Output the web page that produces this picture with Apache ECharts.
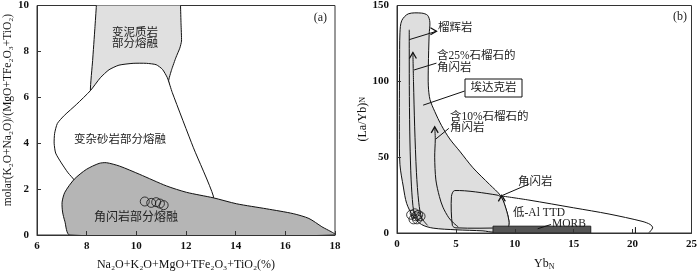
<!DOCTYPE html>
<html><head><meta charset="utf-8">
<script src="https://cdn.jsdelivr.net/npm/echarts@6/dist/echarts.min.js"></script>
<style>html,body{margin:0;padding:0;background:#fff}#c{width:700px;height:276px}</style>
</head><body><div id="c"></div><script>
// ---------- Panel (a) data ----------
const aXRange = [6, 18];
const aYRange = [0, 10];
const metapelite = [[8.4,10.6],[8.39,10],[8.33,9],[8.24,7.6],[8.15,6.3],[8.3,5.5],[11.5,5.5],[11.3,6.7],[11.42,7.2],[11.6,7.75],[11.75,8.14],[11.82,8.45],[11.8,9.2],[11.78,10],[11.78,10.6]];
const greywacke = [[8.15,6.29],[8.55,6.85],[8.9,7.2],[9.3,7.4],[9.87,7.48],[10.41,7.48],[10.8,7.42],[11.05,7.22],[11.25,6.85],[11.45,6.2],[12.3,3.8],[13.1,1.7],[13.0,1.2],[7.8,1.5],[7.52,2.36],[7.25,2.71],[6.98,3.14],[6.75,3.57],[6.69,4.0],[6.71,4.43],[6.82,4.86],[7.1,5.21],[7.6,5.7]];
const amphibolite = [[7.32,0],[7.12,0.6],[7.03,1.0],[7.01,1.43],[7.12,1.86],[7.5,2.43],[7.99,2.86],[8.5,3.12],[8.8,3.15],[9.33,3.0],[10.14,2.64],[11.21,2.14],[12.02,1.86],[13.1,1.62],[14.04,1.36],[15.25,1.14],[16.32,0.93],[16.95,0.72],[17.47,0.36],[18,0]];
const aSamples = [[10.34,1.46],[10.6,1.4],[10.8,1.43],[10.95,1.37],[11.1,1.3]];
// ---------- Panel (b) data ----------
const bXRange = [0, 25];
const bYRange = [0, 150];
const adakite = [[0.96,144.5],[2.08,145],[2.6,143.5],[2.79,139],[2.73,131],[2.66,110],[2.66,97],[2.8,88],[3.21,80],[3.77,71],[4.48,62],[5.32,54],[6.45,43],[7.86,32],[8.8,24.5],[9.25,16],[9.5,8],[9.45,4],[9.2,2.2],[8.2,0.6],[7.3,1.4],[5.04,2.1],[3.07,3.2],[2.08,5.6],[1.38,10.9],[0.82,19.5],[0.54,30.3],[0.25,45],[0.2,67],[0.22,110],[0.25,132],[0.4,140]];
const lowAlTTD = [[4.9,28],[8.5,25],[8.9,23],[9.25,16],[9.5,8],[9.45,4],[9.1,3.4],[5.0,3.4],[4.7,5],[4.62,24]];
const amphCurve = [[8.8,24.5],[11.2,21.7],[15,16.6],[18,12.5],[20.8,7.7],[21.5,5.6],[21.7,3.4],[21.4,0.3]];
const amphTick = [[20.24,0],[20.24,3.9]];
const eclogiteTrack = [[1.04,134],[1.04,120],[1.05,90],[1.1,60],[1.2,35],[1.35,18],[1.5,12]];
const garnet25Track = [[1.35,119],[1.4,100],[1.5,70],[1.65,40],[1.85,20],[2.1,10],[2.6,5]];
const garnet10Track = [[3.2,70],[3.25,62],[3.2,50],[3.3,35],[3.6,24],[3.9,17],[4.4,10],[4.8,6.6],[5.2,4]];
const morb = [[8.15,0],[16.45,4.5]];
const bSamples = [[1.2,12],[1.5,13],[1.8,12],[1.4,9],[1.7,9],[2.0,11],[1.6,11]];
// leader lines (b)
const leaders = [
  [[1.04,127.5],[3.35,133]],
  [[1.45,107.5],[3.35,112]],
  [[2.22,84.3],[5.74,93.6]],
  [[3.3,62],[4.4,69]],
  [[8.98,24.9],[11.23,32.4]],
  [[11.94,2.8],[13.07,5.6]]
];
const arrowUp = [[1.35,119],[3.2,70],[8.9,24.8]];
const arrowRight = [[3.35,133]];

const SERIF = "'Liberation Serif','Times New Roman',serif";
const MIX = "'Liberation Serif','Noto Sans CJK SC',serif";

function area(gi, pts, fill, stroke, smooth, z) {
  return {type:'custom', xAxisIndex:gi, yAxisIndex:gi, z:z, silent:true, clip:true,
    data:[pts[0]],
    renderItem:(p, api)=>({type:'polygon', shape:{points:pts.map(q=>api.coord(q)), smooth:smooth},
      style:{fill:fill, stroke:stroke, lineWidth:1}})};
}
function line(gi, pts, smooth, z) {
  return {type:'custom', xAxisIndex:gi, yAxisIndex:gi, z:z, silent:true,
    data:[pts[0]],
    renderItem:(p, api)=>({type:'polyline', shape:{points:pts.map(q=>api.coord(q)), smooth:smooth},
      style:{fill:null, stroke:'#111', lineWidth:1}})};
}
function axisX(gi, r, step, name) {
  return {gridIndex:gi, type:'value', min:r[0], max:r[1], interval:step, z:10,
    axisLine:{show:true, onZero:false, lineStyle:{color:'#333'}},
    axisTick:{show:true, inside:true, length:4, lineStyle:{color:'#333'}},
    axisLabel:{margin:6, fontFamily:SERIF, fontSize:11, fontWeight:'bold', color:'#111'},
    splitLine:{show:false}, name:name, nameLocation:'middle', nameGap:24,
    nameTextStyle:{fontFamily:SERIF, fontSize:12, color:'#111', rich:{s:{fontSize:8, fontFamily:SERIF, verticalAlign:'bottom', padding:[6,0,0,0]}}}};
}
function axisY(gi, r, step, name, gap) {
  return {gridIndex:gi, type:'value', min:r[0], max:r[1], interval:step, z:10,
    axisLine:{show:true, onZero:false, lineStyle:{color:'#333'}},
    axisTick:{show:true, inside:true, length:4, lineStyle:{color:'#333'}},
    axisLabel:{margin:8, fontFamily:SERIF, fontSize:11, fontWeight:'bold', color:'#111'},
    splitLine:{show:false}, name:name, nameLocation:'middle', nameGap:gap, nameRotate:90,
    nameTextStyle:{fontFamily:SERIF, fontSize:12, color:'#111', rich:{s:{fontSize:8, fontFamily:SERIF}}}};
}

const chart = echarts.init(document.getElementById('c'), null, {renderer:'canvas'});
const bLines = [line(1, amphCurve, 0.3, 6), line(1, amphTick, 0, 6), line(1, eclogiteTrack, 0.3, 6), line(1, garnet25Track, 0.3, 6), line(1, garnet10Track, 0.3, 6)];
leaders.forEach(l => bLines.push(line(1, l, 0, 7)));

function txt(x, y, s, size, align) {
  return {type:'text', x:x, y:y, z:100, style:{text:s, fontFamily:MIX, fontSize:size||11.5, fill:'#222', align:align||'left', verticalAlign:'middle'}};
}

chart.setOption({
  animation:false,
  grid:[
    {left:37, top:4, width:298, height:233, show:true, borderColor:'#333', borderWidth:1},
    {left:397, top:4, width:297, height:233, show:true, borderColor:'#333', borderWidth:1}
  ],
  xAxis:[axisX(0, aXRange, 2, 'Na₂O+K₂O+MgO+TFe₂O₃+TiO₂(%)'), axisX(1, bXRange, 5, 'Yb{s|N}')],
  yAxis:[axisY(0, aYRange, 2, '', 24), axisY(1, bYRange, 50, '(La/Yb){s|N}', 28)],
  series:[
    area(0, metapelite, '#e0e0e0', '#111', 0.15, 2),
    area(0, greywacke, '#ffffff', '#111', 0.2, 3),
    area(0, amphibolite, '#b5b5b5', '#111', 0.25, 4),
    {type:'scatter', xAxisIndex:0, yAxisIndex:0, z:8, symbol:'circle', symbolSize:9, data:aSamples,
      itemStyle:{color:'rgba(0,0,0,0)', borderColor:'#111', borderWidth:1}},
    area(1, adakite, '#dedede', '#111', 0.3, 2),
    area(1, lowAlTTD, '#dedede', '#111', 0.3, 3),
    ...bLines,
    {type:'custom', xAxisIndex:1, yAxisIndex:1, z:5, silent:true, data:[morb[0]],
      renderItem:(p, api)=>{const a=api.coord(morb[0]), b=api.coord(morb[1]);
        return {type:'rect', shape:{x:a[0], y:b[1], width:b[0]-a[0], height:a[1]-b[1]}, style:{fill:'#555', stroke:'#222'}};}},
    {type:'custom', xAxisIndex:1, yAxisIndex:1, z:8, silent:true, data:arrowUp,
      renderItem:(p, api)=>{const c=api.coord([api.value(0), api.value(1)]);
        return {type:'polyline', shape:{points:[[c[0]-3.5,c[1]+6],[c[0],c[1]],[c[0]+3.5,c[1]+6]]}, style:{stroke:'#111', lineWidth:1.3, fill:null}};}},
    {type:'custom', xAxisIndex:1, yAxisIndex:1, z:8, silent:true, data:arrowRight,
      renderItem:(p, api)=>{const c=api.coord([api.value(0), api.value(1)]);
        return {type:'polyline', shape:{points:[[c[0]-6,c[1]-3.5],[c[0],c[1]],[c[0]-6,c[1]+3.5]]}, style:{stroke:'#111', lineWidth:1.3, fill:null}};}},
    {type:'scatter', xAxisIndex:1, yAxisIndex:1, z:8, symbol:'circle', symbolSize:9, data:bSamples,
      itemStyle:{color:'rgba(0,0,0,0)', borderColor:'#111', borderWidth:1}}
  ],
  graphic:[
    {type:'text', x:8, y:110, rotation:Math.PI/2, z:100, style:{text:'molar(K₂O+Na₂O)/(MgO+TFe₂O₃+TiO₂)', fontFamily:SERIF, fontSize:11.5, fill:'#111', align:'center', verticalAlign:'middle'}},
    txt(135,33,'变泥质岩',11.5,'center'), txt(135,44,'部分熔融',11.5,'center'),
    txt(120,140,'变杂砂岩部分熔融',11.5,'center'),
    txt(136,218,'角闪岩部分熔融',12,'center'),
    txt(327,18,'(a)',12,'right'),
    txt(687,17,'(b)',12,'right'),
    txt(438,28,'榴辉岩'),
    txt(437,56,'含25%石榴石的'), txt(437,68,'角闪岩'),
    {type:'rect', shape:{x:465, y:79, width:57, height:18}, z:99, style:{fill:'#fff', stroke:'#111', lineWidth:1}},
    txt(493.5,88,'埃达克岩',11.5,'center'),
    txt(450,117,'含10%石榴石的'), txt(450,128,'角闪岩'),
    txt(518,182,'角闪岩'),
    txt(513,213,'低-Al TTD'),
    txt(552,224,'MORB')
  ]
});
</script></body></html>
